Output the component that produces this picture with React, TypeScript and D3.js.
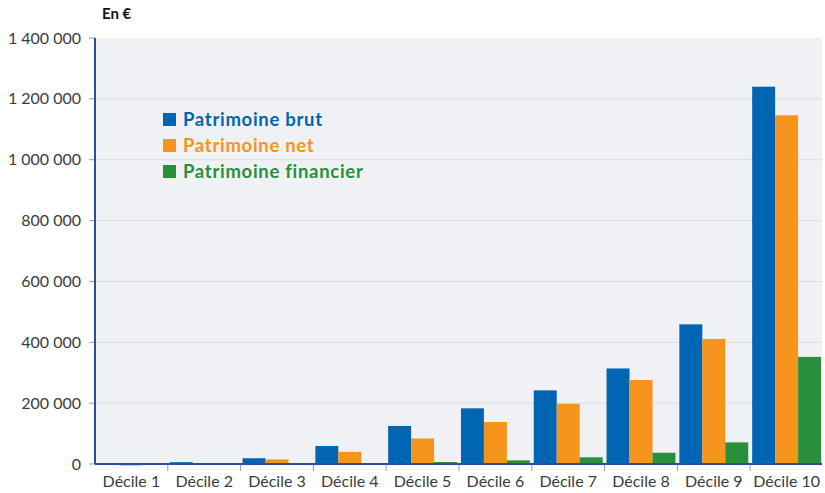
import React from "react";
import * as d3 from "d3";

const categories = ["Décile 1","Décile 2","Décile 3","Décile 4","Décile 5","Décile 6","Décile 7","Décile 8","Décile 9","Décile 10"];
const seriesNames = ["Patrimoine brut","Patrimoine net","Patrimoine financier"];
const brut = [1000, 6000, 19000, 59000, 125000, 183000, 242000, 314000, 459000, 1240000];
const net = [-5000, 3000, 15000, 40000, 84000, 138000, 198000, 276000, 411000, 1146000];
const financier = [500, 300, 600, 3000, 6500, 12000, 22000, 37000, 71000, 352000];
const yTicks = [0, 200000, 400000, 600000, 800000, 1000000, 1200000, 1400000];
const colors = ["#0066b3", "#f7941d", "#2a8f3a"];

const fmt = (v: number) => d3.format(",")(v).replace(/,/g, "\u202f");

export default function App() {
  const W = 825, H = 493;
  const left = 95, right = 822, top = 38, bottom = 464;
  const x = d3.scaleBand<string>().domain(categories).range([left, right + 1]).paddingInner(0).paddingOuter(0);
  const x1 = d3.scaleBand<string>().domain(seriesNames).range([0, x.bandwidth()]).paddingOuter(0.085).paddingInner(0);
  const y = d3.scaleLinear().domain([0, 1400000]).range([bottom, top]);
  const data = [brut, net, financier];
  const font = "Lato, 'Open Sans', sans-serif";
  return (
    <svg width={W} height={H} style={{ position: "absolute", left: 0, top: 0 }}>
      <rect x={left} y={top} width={right - left} height={bottom - top} fill="#f0f1f4" />
      {yTicks.map((t) => (
        <g key={t}>
          {t > 0 && t < 1400000 && <line x1={left} x2={right} y1={y(t)} y2={y(t)} stroke="#dcdde2" strokeWidth={1} />}
          <line x1={89} x2={left} y1={y(t)} y2={y(t)} stroke="#9a9a9a" strokeWidth={1} />
          <text x={81} y={y(t)} dy="0.35em" textAnchor="end" fontFamily={font} fontSize={16} fill="#3c3c3c">{fmt(t)}</text>
        </g>
      ))}
      {categories.map((c, i) => (
        <g key={c}>
          {data.map((s, k) => {
            const v = s[i];
            const y0 = y(Math.max(0, v));
            const h = Math.abs(y(v) - y(0));
            return <rect key={k} x={(x(c) as number) + (x1(seriesNames[k]) as number)} y={y0} width={x1.bandwidth()} height={Math.max(h, 0.01)} fill={colors[k]} />;
          })}
          <text x={(x(c) as number) + x.bandwidth() / 2} y={487} textAnchor="middle" fontFamily={font} fontSize={16} fill="#3c3c3c">{c}</text>
          {i > 0 && <line x1={x(c)} x2={x(c)} y1={bottom} y2={bottom + 7} stroke="#9a9a9a" strokeWidth={1} />}
        </g>
      ))}
      <line x1={left} x2={right} y1={bottom} y2={bottom} stroke="#2b4ea2" strokeWidth={2} />
      <line x1={left} x2={left} y1={top} y2={bottom} stroke="#2b4ea2" strokeWidth={2} />
      <text x={102} y={19} fontFamily={font} fontSize={15} fontWeight="bold" fill="#111">En €</text>
      {seriesNames.map((n, k) => (
        <g key={n}>
          <rect x={163} y={113 + k * 26} width={13} height={13} fill={colors[k]} />
          <text x={183} y={125.5 + k * 26} fontFamily={font} fontSize={18.5} letterSpacing={0.7} fontWeight="bold" fill={colors[k]}>{n}</text>
        </g>
      ))}
    </svg>
  );
}
